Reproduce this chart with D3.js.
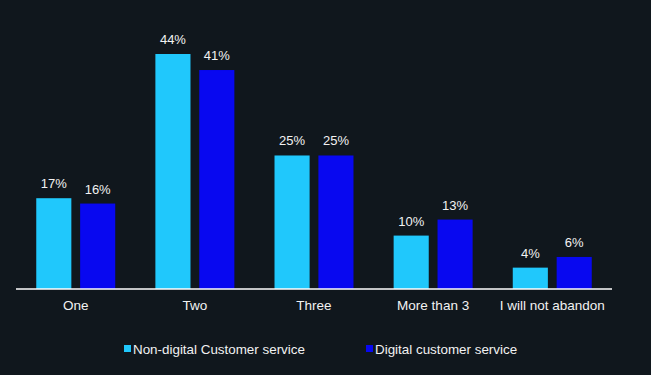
<!DOCTYPE html>
<html lang="en">
<head>
<meta charset="utf-8">
<script src="https://d3js.org/d3.v7.min.js"></script>
<style>
  body { margin: 0; background: #10171d; }
  text { font-family: "Liberation Sans", Arial, sans-serif; fill: #f2f2f2; }
</style>
</head>
<body>
<div id="chart"></div>
<script>
// data
var categories = ["One", "Two", "Three", "More than 3", "I will not abandon"];
var seriesNames = ["Non-digital Customer service", "Digital customer service"];
var nonDigital = [17, 44, 25, 10, 4];
var digital = [16, 41, 25, 13, 6];
var colors = ["#20c8fc", "#0808f0"];

var width = 651, height = 375;
var svg = d3.select("#chart").append("svg")
  .attr("width", width)
  .attr("height", height);

var data = categories.map(function (c, i) {
  return { cat: c, values: [nonDigital[i], digital[i]] };
});

var baseY = 289;
var x0 = d3.scaleBand().domain(categories).range([16, 612])
  .paddingInner(0.337).paddingOuter(0.17);
var x1 = d3.scaleBand().domain([0, 1]).range([0, x0.bandwidth()]).paddingInner(0.2);
var y = d3.scaleLinear().domain([0, 44]).range([baseY, 54]);

var groups = svg.selectAll("g.grp").data(data).enter().append("g")
  .attr("class", "grp")
  .attr("transform", function (d) { return "translate(" + x0(d.cat) + ",0)"; });

groups.selectAll("rect").data(function (d) { return d.values; }).enter().append("rect")
  .attr("x", function (d, i) { return x1(i); })
  .attr("y", function (d) { return y(d); })
  .attr("width", x1.bandwidth())
  .attr("height", function (d) { return baseY - y(d); })
  .attr("fill", function (d, i) { return colors[i]; });

groups.selectAll("text.val").data(function (d) { return d.values; }).enter().append("text")
  .attr("class", "val")
  .attr("x", function (d, i) { return x1(i) + x1.bandwidth() / 2; })
  .attr("y", function (d) { return y(d) - 10; })
  .attr("text-anchor", "middle")
  .style("font-size", "13px")
  .text(function (d) { return d + "%"; });

// x axis
var xAxis = svg.append("g")
  .attr("transform", "translate(0," + baseY + ")")
  .call(d3.axisBottom(x0).tickSize(0).tickPadding(11));
xAxis.select(".domain").attr("stroke", "#ffffff").attr("stroke-width", 1.5)
  .attr("d", "M16,0H612");
xAxis.selectAll("text").style("font-size", "13.5px").attr("fill", "#f2f2f2")
  .style("font-family", "'Liberation Sans', Arial, sans-serif");

// legend
var legendX = [124, 366];
var legend = svg.selectAll("g.leg").data(seriesNames).enter().append("g")
  .attr("class", "leg")
  .attr("transform", function (d, i) { return "translate(" + legendX[i] + ",349)"; });
legend.append("rect")
  .attr("x", 0).attr("y", -4)
  .attr("width", 7).attr("height", 7)
  .attr("fill", function (d, i) { return colors[i]; });
legend.append("text")
  .attr("x", 9).attr("y", 5)
  .style("font-size", "13.4px")
  .text(function (d) { return d; });
</script>
</body>
</html>
